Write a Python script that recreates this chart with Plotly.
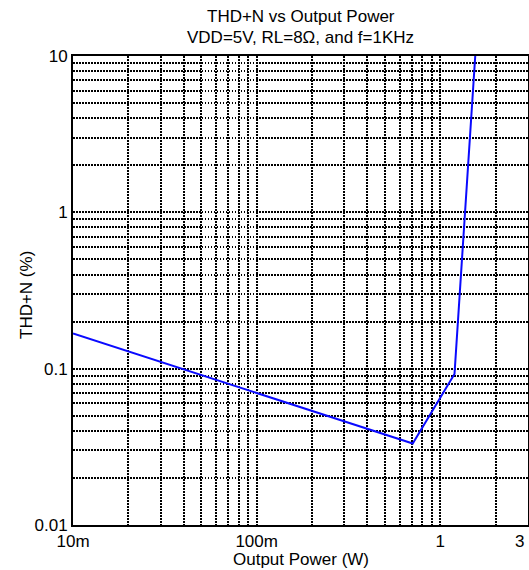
import math
import plotly.graph_objects as go

# Data
power_w = [0.01, 0.708, 1.195, 1.55]
thdn_pct = [0.168, 0.0332, 0.0925, 10.0]

x_tick_vals = [0.01, 0.1, 1, 3]
x_tick_text = ["10m", "100m", "1", "3"]
y_tick_vals = [0.01, 0.1, 1, 10]
y_tick_text = ["0.01", "0.1", "1", "10"]

x_minor = [0.02, 0.03, 0.04, 0.05, 0.06, 0.07, 0.08, 0.09,
           0.2, 0.3, 0.4, 0.5, 0.6, 0.7, 0.8, 0.9, 2]
y_minor = [0.02, 0.03, 0.04, 0.05, 0.06, 0.07, 0.08, 0.09,
           0.2, 0.3, 0.4, 0.5, 0.6, 0.7, 0.8, 0.9,
           2, 3, 4, 5, 6, 7, 8, 9]

title_lines = ["THD+N vs Output Power", "VDD=5V, RL=8Ω, and f=1KHz"]
x_title = "Output Power (W)"
y_title = "THD+N (%)"

FONT = "Arial, Liberation Sans, sans-serif"
GRID_DASH = "1.5px,1.5px"
GW = 1.6

fig = go.Figure()
fig.add_trace(go.Scatter(x=power_w, y=thdn_pct, mode="lines",
                         line=dict(color="#0a0aff", width=2),
                         showlegend=False, hoverinfo="skip"))

axis_common = dict(
    type="log", showline=True, linecolor="black", linewidth=2, mirror=True,
    showgrid=True, gridcolor="black", gridwidth=GW, griddash=GRID_DASH,
    ticks="", zeroline=False, automargin=False,
    tickfont=dict(family=FONT, size=17, color="black"),
)

# the last x tick label sits at the page edge; it is placed as an
# annotation (right-aligned) so it is not cut off
fig.update_xaxes(
    **axis_common,
    range=[-2, 0.4776],
    tickmode="array", tickvals=x_tick_vals,
    ticktext=x_tick_text[:-1] + [""],
    minor=dict(tickmode="array", tickvals=x_minor, showgrid=True,
               gridcolor="black", gridwidth=GW, griddash=GRID_DASH, ticks=""),
)
fig.update_yaxes(
    **axis_common,
    range=[-2, 1],
    tickmode="array", tickvals=y_tick_vals, ticktext=y_tick_text,
    minor=dict(tickmode="array", tickvals=y_minor, showgrid=True,
               gridcolor="black", gridwidth=GW, griddash=GRID_DASH, ticks=""),
)

tfont = dict(family=FONT, size=17, color="black")
annotations = [
    dict(text=title_lines[0], xref="paper", yref="paper", x=0.5, y=1.0832,
         xanchor="center", yanchor="middle", showarrow=False, font=tfont),
    dict(text=title_lines[1], xref="paper", yref="paper", x=0.5, y=1.0405,
         xanchor="center", yanchor="middle", showarrow=False, font=tfont),
    dict(text=x_title, xref="paper", yref="paper", x=0.5, y=-0.0725,
         xanchor="center", yanchor="middle", showarrow=False, font=tfont),
    dict(text=y_title, xref="paper", yref="paper", x=-0.1033, y=0.4904,
         xanchor="center", yanchor="middle", showarrow=False, font=tfont,
         textangle=-90),
    dict(text=x_tick_text[-1], xref="x", yref="paper",
         x=math.log10(x_tick_vals[-1]), y=-0.036,
         xanchor="right", yanchor="middle", xshift=-2, showarrow=False,
         font=tfont),
]

fig.update_layout(
    width=529, height=570,
    margin=dict(l=73, r=1, t=56, b=45, autoexpand=False),
    paper_bgcolor="white", plot_bgcolor="white",
    annotations=annotations,
)

fig.write_html("out.html")
